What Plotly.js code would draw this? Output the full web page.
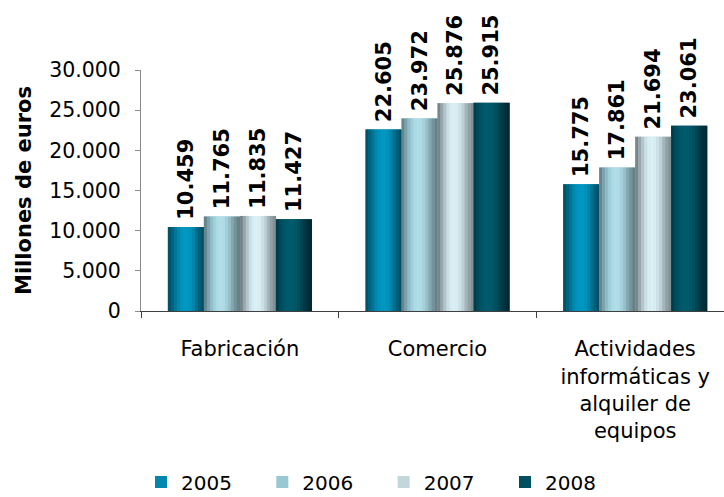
<!DOCTYPE html>
<html>
<head>
<meta charset="utf-8">
<script src="https://cdn.plot.ly/plotly-3.0.1.min.js"></script>
<style>
html,body{margin:0;padding:0;overflow:hidden;background:#fff;}
#chart{width:744px;height:497px;}
</style>
</head>
<body>
<div id="chart"></div>
<script>
// ---- data ----
const categories = ["Fabricación", "Comercio", "Actividades<br>informáticas y<br>alquiler de<br>equipos"];
const years = ["2005", "2006", "2007", "2008"];
const v2005 = [10459, 22605, 15775];
const v2006 = [11765, 23972, 17861];
const v2007 = [11835, 25876, 21694];
const v2008 = [11427, 25915, 23061];
const yTicks = [0, 5000, 10000, 15000, 20000, 25000, 30000];

// ---- styles ----
const seriesValues = [v2005, v2006, v2007, v2008];
const midColors = ['#0087ad', '#98c8d3', '#c3d6db', '#004f5f'];
const gradStops = [
  ['#004a5f','#006a88','#0090b9','#0099c4','#008fb8','#006580','#004a5e'],
  ['#5d767c','#86b2bd','#a9d9e5','#b4e0ea','#9fcbd6','#7a9aa2','#5f7880'],
  ['#687478','#a7b8bc','#d6ecf2','#ddf1f7','#c8dde3','#98a9ad','#7a898d'],
  ['#003845','#00505f','#005b6d','#005a6b','#004b5a','#00343f','#00252d']
];
const W = 0.182;      // single bar width (category units)
const NSTRIP = 12;    // gradient strips per bar
const FONT = 'DejaVu Sans, Verdana, sans-serif';
const LEGEND_PAD = '\u00a0\u00a0\u00a0\u00a0';

function hex2rgb(h){return [parseInt(h.slice(1,3),16),parseInt(h.slice(3,5),16),parseInt(h.slice(5,7),16)];}
function interp(stops, t){
  const n = stops.length-1, p = t*n, i = Math.min(Math.floor(p), n-1), f = p-i;
  const a = hex2rgb(stops[i]), b = hex2rgb(stops[i+1]);
  return 'rgb(' + a.map((c,k)=>Math.round(c+(b[k]-c)*f)).join(',') + ')';
}

const traces = [];
seriesValues.forEach((vals, s) => {
  traces.push({
    type: 'bar', name: years[s] + (s < years.length - 1 ? LEGEND_PAD : ''), x: categories, y: vals,
    width: W, offset: -2*W + s*W,
    marker: {color: midColors[s], line: {width: 0}},
    texttemplate: '\u2009%{y:,.0f}',
    textposition: 'outside', textangle: -90, constraintext: 'none',
    textfont: {family: FONT, size: 21, color: '#000', weight: 'bold'},
    cliponaxis: false, hoverinfo: 'skip'
  });
});
seriesValues.forEach((vals, s) => {
  for (let k = 0; k < NSTRIP; k++) {
    traces.push({
      type: 'bar', x: categories, y: vals, showlegend: false,
      width: W/NSTRIP + 0.0012, offset: -2*W + s*W + k*W/NSTRIP,
      marker: {color: interp(gradStops[s], (k+0.5)/NSTRIP), line: {width: 0}},
      hoverinfo: 'skip'
    });
  }
});

const layout = {
  width: 744, height: 497,
  margin: {l: 141, r: 10, t: 70, b: 186},
  paper_bgcolor: '#fff', plot_bgcolor: '#fff',
  separators: ',.',
  barmode: 'overlay',
  showlegend: true,
  font: {family: FONT, color: '#000'},
  xaxis: {
    type: 'category', range: [-0.5, 2.5],
    showline: true, linecolor: '#404040', linewidth: 1,
    ticks: 'outside', tickson: 'boundaries', ticklen: 6, tickcolor: '#404040',
    ticklabelstandoff: 19,
    tickfont: {family: FONT, size: 21, color: '#000'},
    showgrid: false, zeroline: false, fixedrange: true
  },
  yaxis: {
    range: [0, 30000], tickvals: yTicks, tickformat: ',d',
    showline: true, linecolor: '#8a8a8a', linewidth: 1,
    ticks: 'outside', ticklen: 5, tickcolor: '#8a8a8a',
    ticklabelstandoff: 10,
    tickfont: {family: FONT, size: 20.5, color: '#000'},
    title: {text: 'Millones de euros', font: {family: FONT, size: 21, color: '#000', weight: 'bold'}, standoff: 11},
    showgrid: false, zeroline: false, fixedrange: true
  },
  legend: {
    orientation: 'h', x: 0, xanchor: 'left', y: 0.03, yref: 'container', yanchor: 'middle',
    font: {family: FONT, size: 20, color: '#000'},
    traceorder: 'normal'
  }
};

Plotly.newPlot('chart', traces, layout, {displayModeBar: false, staticPlot: true});
</script>
</body>
</html>
